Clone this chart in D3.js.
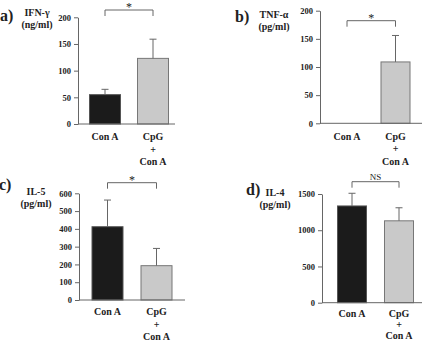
<!DOCTYPE html>
<html>
<head>
<meta charset="utf-8">
<script src="https://cdn.jsdelivr.net/npm/d3@7"></script>
<style>
  body { margin: 0; background: #fff; }
  svg { display: block; font-family: "Liberation Serif", "DejaVu Serif", serif; font-weight: bold; }
</style>
</head>
<body>
<svg id="chart" width="429" height="343"></svg>
<script>
  'use strict';

  // groups, each label drawn on its own lines
  var categories = ['Con A', 'CpG + Con A'];
  var categoryLines = [['Con A'], ['CpG', '+', 'Con A']];

  // a) IFN-gamma (ng/ml)
  var ifnMeans = [55, 123];
  var ifnErrors = [10, 36];
  var ifnTicks = [0, 50, 100, 150, 200];

  // b) TNF-alpha (pg/ml)
  var tnfMeans = [0, 109];
  var tnfErrors = [0, 47];
  var tnfTicks = [0, 50, 100, 150, 200];

  // c) IL-5 (pg/ml)
  var il5Means = [412, 193];
  var il5Errors = [150, 97];
  var il5Ticks = [0, 100, 200, 300, 400, 500, 600];

  // d) IL-4 (pg/ml)
  var il4Means = [1335, 1130];
  var il4Errors = [175, 180];
  var il4Ticks = [0, 500, 1000, 1500];

  var barFill = ['#1b1b1b', '#c9c9c9'];
  var barStroke = ['#555', '#777'];
  var ink = '#222';
  var lineCol = '#666';

  var panels = [
    { tag: 'a)', name: 'IFN-\u03b3', unit: '(ng/ml)', sig: '*',
      means: ifnMeans, errors: ifnErrors, ticks: ifnTicks,
      axisX: 78, axisEnd: 175, y0: 124, yTop: 17.3, centers: [105, 153], barW: 31,
      tagX: 0, tagY: 20.5, titleX: 37, titleY: 16, unitY: 27.5, sigY: 10, catDy: 16, catStep: 12.5 },
    { tag: 'b)', name: 'TNF-\u03b1', unit: '(pg/ml)', sig: '*',
      means: tnfMeans, errors: tnfErrors, ticks: tnfTicks,
      axisX: 320, axisEnd: 422, y0: 123.3, yTop: 10.7, centers: [347, 395.5], barW: 29,
      tagX: 235, tagY: 22, titleX: 274, titleY: 18, unitY: 30, sigY: 20.7, catDy: 16.5, catStep: 12.5 },
    { tag: 'c)', name: 'IL-5', unit: '(pg/ml)', sig: '*',
      means: il5Means, errors: il5Errors, ticks: il5Ticks,
      axisX: 79, axisEnd: 185, y0: 300, yTop: 193.3, centers: [107.5, 156.5], barW: 31,
      tagX: -1, tagY: 190, titleX: 36, titleY: 195, unitY: 207, sigY: 182.7, catDy: 15, catStep: 12.5 },
    { tag: 'd)', name: 'IL-4', unit: '(pg/ml)', sig: 'NS',
      means: il4Means, errors: il4Errors, ticks: il4Ticks,
      axisX: 322, axisEnd: 422, y0: 302.7, yTop: 194, centers: [352, 399], barW: 29,
      tagX: 246, tagY: 195, titleX: 275, titleY: 196, unitY: 208, sigY: 181.7, catDy: 14, catStep: 11.2 }
  ];

  var svg = d3.select('#chart');

  panels.forEach(function(p) {
    var g = svg.append('g');

    var x = d3.scalePoint()
      .domain(categories)
      .range(p.centers);

    var y = d3.scaleLinear()
      .domain([0, d3.max(p.ticks)])
      .range([p.y0, p.yTop]);

    // bars
    g.selectAll('rect.bar')
      .data(categories)
      .enter().append('rect')
        .attr('class', 'bar')
        .attr('x', function(d) { return x(d) - p.barW / 2; })
        .attr('y', function(d, i) { return y(p.means[i]); })
        .attr('width', p.barW)
        .attr('height', function(d, i) { return p.y0 - y(p.means[i]); })
        .style('fill', function(d, i) { return barFill[i]; })
        .style('stroke', function(d, i) { return barStroke[i]; })
        .style('stroke-width', '1px')
        .style('display', function(d, i) { return p.means[i] > 0 ? null : 'none'; });

    // upper error bars
    var err = g.selectAll('g.err')
      .data(categories.filter(function(d, i) { return p.errors[i] > 0; }))
      .enter().append('g')
        .attr('class', 'err');

    err.append('line')
      .attr('x1', function(d) { return x(d); })
      .attr('x2', function(d) { return x(d); })
      .attr('y1', function(d) { var i = categories.indexOf(d); return y(p.means[i]); })
      .attr('y2', function(d) { var i = categories.indexOf(d); return y(p.means[i] + p.errors[i]); })
      .style('stroke', lineCol)
      .style('stroke-width', '1px');

    err.append('line')
      .attr('x1', function(d) { return x(d) - 3.5; })
      .attr('x2', function(d) { return x(d) + 3.5; })
      .attr('y1', function(d) { var i = categories.indexOf(d); return y(p.means[i] + p.errors[i]); })
      .attr('y2', function(d) { var i = categories.indexOf(d); return y(p.means[i] + p.errors[i]); })
      .style('stroke', lineCol)
      .style('stroke-width', '1px');

    // y axis
    var yAxis = g.append('g')
      .attr('transform', 'translate(' + p.axisX + ',0)')
      .call(d3.axisLeft(y).tickValues(p.ticks).tickFormat(d3.format('d'))
        .tickSize(4).tickSizeOuter(0).tickPadding(3));

    yAxis.selectAll('path, line').style('stroke', lineCol);
    yAxis.selectAll('text')
      .style('font-family', '"Liberation Serif", "DejaVu Serif", serif')
      .style('font-weight', 'bold')
      .style('font-size', '8.5px')
      .style('fill', ink);

    // x baseline
    g.append('line')
      .attr('x1', p.axisX)
      .attr('x2', p.axisEnd)
      .attr('y1', p.y0)
      .attr('y2', p.y0)
      .style('stroke', lineCol)
      .style('stroke-width', '1px');

    // category labels
    var cat = g.selectAll('text.cat')
      .data(categories)
      .enter().append('text')
        .attr('class', 'cat')
        .attr('text-anchor', 'middle')
        .style('font-size', '10px')
        .style('fill', ink);

    cat.each(function(d, i) {
      var t = d3.select(this);
      categoryLines[i].forEach(function(s, k) {
        t.append('tspan')
          .attr('x', x(d))
          .attr('y', p.y0 + p.catDy + k * p.catStep)
          .text(s);
      });
    });

    // significance bracket
    var bx1 = x(categories[0]), bx2 = x(categories[1]);
    g.append('path')
      .attr('d', 'M' + bx1 + ',' + (p.sigY + 6) + 'V' + p.sigY + 'H' + bx2 + 'V' + (p.sigY + 6))
      .style('fill', 'none')
      .style('stroke', lineCol)
      .style('stroke-width', '1px');

    g.append('text')
      .attr('x', (bx1 + bx2) / 2)
      .attr('y', p.sig === '*' ? p.sigY + 1 : p.sigY - 2)
      .attr('text-anchor', 'middle')
      .style('font-size', p.sig === '*' ? '12px' : '9px')
      .style('font-weight', 'normal')
      .style('fill', ink)
      .text(p.sig);

    // panel tag and y title
    g.append('text')
      .attr('x', p.tagX)
      .attr('y', p.tagY)
      .style('font-size', '16px')
      .style('fill', ink)
      .text(p.tag);

    g.append('text')
      .attr('x', p.titleX)
      .attr('y', p.titleY)
      .attr('text-anchor', 'middle')
      .style('font-size', '10px')
      .style('fill', ink)
      .text(p.name);

    g.append('text')
      .attr('x', p.titleX)
      .attr('y', p.unitY)
      .attr('text-anchor', 'middle')
      .style('font-size', '10px')
      .style('fill', ink)
      .text(p.unit);
  });
</script>
</body>
</html>
